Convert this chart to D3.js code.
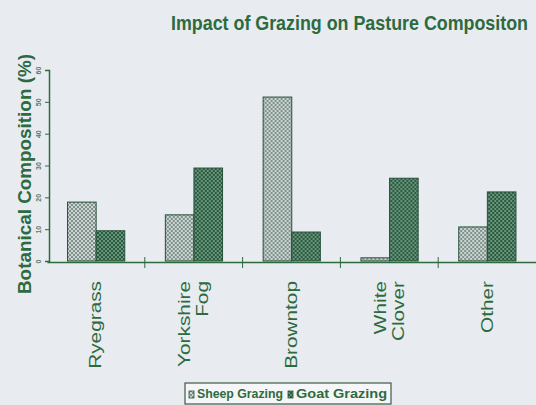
<!DOCTYPE html>
<html>
<head>
<meta charset="utf-8">
<script src="https://cdn.jsdelivr.net/npm/d3@7"></script>
<style>
  html, body { margin: 0; padding: 0; background: #eaeef2; }
  svg { display: block; font-family: "Liberation Sans", Arial, sans-serif; }
</style>
</head>
<body>
<svg id="chart" width="536" height="405"></svg>
<script>
// Botanical composition (%) of pasture species under each grazing regime
const categories = ["Ryegrass", "Yorkshire Fog", "Browntop", "White Clover", "Other"];
const seriesNames = ["Sheep Grazing", "Goat Grazing"];
const sheepValues = [18.5, 14.5, 51.5, 1, 10.7];
const goatValues = [9.5, 29.2, 9.1, 26, 21.7];
const yTicks = [0, 10, 20, 30, 40, 50, 60];

const data = categories.map((c, i) => ({
  category: c,
  values: [
    { series: seriesNames[0], value: sheepValues[i] },
    { series: seriesNames[1], value: goatValues[i] }
  ]
}));

const green = "#2d6a3e";
const svg = d3.select("#chart");

// background
svg.append("rect").attr("width", 536).attr("height", 405).attr("fill", "#e8ecf0");

// dotted fills for the two series
const defs = svg.append("defs");
function dotPattern(id, base, dot) {
  const p = defs.append("pattern").attr("id", id)
    .attr("patternUnits", "userSpaceOnUse").attr("width", 4).attr("height", 4);
  p.append("rect").attr("width", 4).attr("height", 4).attr("fill", base);
  p.append("rect").attr("x", 0).attr("y", 0).attr("width", 2).attr("height", 2).attr("fill", dot);
  p.append("rect").attr("x", 2).attr("y", 2).attr("width", 2).attr("height", 2).attr("fill", dot);
}
dotPattern("fillSheep", "#ccd4d2", "#7f918a");
dotPattern("fillGoat", "#285c3f", "#6a937b");
const fills = { "Sheep Grazing": "url(#fillSheep)", "Goat Grazing": "url(#fillGoat)" };

const x0 = d3.scaleBand().domain(categories).range([47, 536]).padding(0);
const bw = x0.bandwidth();
const x1 = d3.scaleBand().domain(seriesNames).range([bw * 0.21, bw * 0.795]).padding(0);
const y = d3.scaleLinear().domain([0, 60]).range([261, 70]);

// title, drawn tall and condensed
svg.append("text")
  .attr("transform", "translate(171,30) scale(1,1.24)")
  .attr("textLength", 357).attr("lengthAdjust", "spacingAndGlyphs")
  .attr("font-size", 17).attr("font-weight", "bold").attr("fill", green)
  .text("Impact of Grazing on Pasture Compositon");

// y axis title
svg.append("text")
  .attr("transform", "translate(31,174) rotate(-90)")
  .attr("text-anchor", "middle")
  .attr("textLength", 240).attr("lengthAdjust", "spacingAndGlyphs")
  .attr("font-size", 19).attr("font-weight", "bold").attr("fill", green)
  .text("Botanical Composition (%)");

// bars
const groups = svg.append("g").selectAll("g").data(data).join("g")
  .attr("transform", d => `translate(${x0(d.category)},0)`);
groups.selectAll("rect").data(d => d.values).join("rect")
  .attr("x", d => x1(d.series))
  .attr("y", d => y(d.value))
  .attr("width", x1.bandwidth())
  .attr("height", d => y(0) - y(d.value))
  .attr("fill", d => fills[d.series])
  .attr("stroke", "#27503a").attr("stroke-width", 1);

// y axis
const yAxis = svg.append("g").attr("transform", "translate(49,0)")
  .call(d3.axisLeft(y).tickValues(yTicks).tickSize(4).tickFormat(d3.format("d")));
yAxis.select(".domain").attr("stroke", green).attr("stroke-width", 1.5);
yAxis.selectAll(".tick line").attr("stroke", green);
yAxis.selectAll(".tick text")
  .attr("font-size", 7).attr("font-weight", "bold").attr("fill", "#5d7a68")
  .attr("text-anchor", "middle")
  .attr("x", null).attr("dy", null)
  .attr("transform", "translate(-8,0) rotate(-90)");

// x axis
const xAxis = svg.append("g").attr("transform", "translate(0,262)")
  .call(d3.axisBottom(x0).tickSize(0).tickFormat(""));
xAxis.select(".domain").attr("stroke", green).attr("stroke-width", 1.5);
xAxis.selectAll(".tick").remove();
// separators between categories
svg.append("g").selectAll("line").data(categories.slice(1)).join("line")
  .attr("x1", d => x0(d)).attr("x2", d => x0(d))
  .attr("y1", 257).attr("y2", 268)
  .attr("stroke", green).attr("stroke-width", 1);

// category labels, rotated, split on spaces
const labels = svg.append("g").selectAll("text").data(categories).join("text")
  .attr("transform", d => `translate(${x0(d) + bw / 2},281) rotate(-90) scale(1.3,1)`)
  .attr("text-anchor", "end")
  .attr("font-size", 16).attr("fill", green);
labels.each(function(d) {
  const words = d.split(" ");
  const t = d3.select(this);
  words.forEach((w, i) => {
    const off = (i - (words.length - 1) / 2) * 18 + 5.5;
    t.append("tspan").attr("x", 0).attr("y", off).text(w);
  });
});

// legend
const lg = svg.append("g");
lg.append("rect").attr("x", 185).attr("y", 383).attr("width", 206).attr("height", 21)
  .attr("fill", "#f4f6f7").attr("stroke", "#3d5a48").attr("stroke-width", 1.2);
const legendItems = [
  { name: seriesNames[0], sx: 189, tx: 197, len: 86 },
  { name: seriesNames[1], sx: 288, tx: 296, len: 91 }
];
lg.selectAll("rect.sw").data(legendItems).join("rect").attr("class", "sw")
  .attr("x", d => d.sx).attr("y", 391).attr("width", 5).attr("height", 7)
  .attr("fill", d => fills[d.name]).attr("stroke", "#27503a").attr("stroke-width", 0.8);
lg.selectAll("text").data(legendItems).join("text")
  .attr("x", d => d.tx).attr("y", 398)
  .attr("textLength", d => d.len).attr("lengthAdjust", "spacingAndGlyphs")
  .attr("font-size", 12).attr("font-weight", "bold").attr("fill", green)
  .text(d => d.name);
</script>
</body>
</html>
